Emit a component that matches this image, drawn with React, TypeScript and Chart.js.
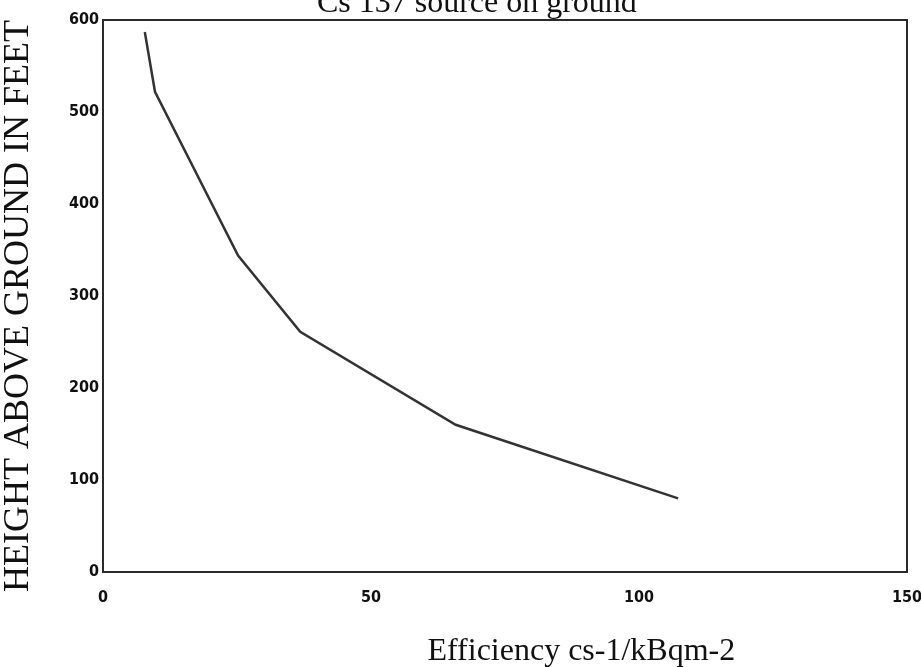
import React, { useEffect, useRef } from "react";
import { Chart, registerables } from "chart.js";

Chart.register(...registerables);

const efficiency = [7.8, 9.7, 25.2, 36.8, 65.8, 107.3];
const heightFeet = [587, 522, 344, 261, 160, 80];
const xTicks = [0, 50, 100, 150];
const yTicks = [0, 100, 200, 300, 400, 500, 600];
const titleText = "Cs 137 source on ground";
const xLabelText = "Efficiency cs-1/kBqm-2";
const yLabelText = "HEIGHT ABOVE GROUND IN FEET";

const INK = "#2a2a2a";
const SERIF = "'Liberation Serif', 'Times New Roman', serif";
const TICKFONT = "'Liberation Sans Narrow', 'DejaVu Sans Condensed', sans-serif";

const decorPlugin = {
  id: "decor",
  afterDraw(chart: any) {
    const { ctx, chartArea } = chart;
    const { left, top, right, bottom } = chartArea;
    ctx.save();
    // frame
    ctx.strokeStyle = INK;
    ctx.lineWidth = 2;
    ctx.strokeRect(left, top, right - left, bottom - top);
    // title
    ctx.fillStyle = "#111";
    ctx.font = `32px ${SERIF}`;
    ctx.textAlign = "center";
    ctx.textBaseline = "alphabetic";
    ctx.fillText(titleText, left + (right - left) * 0.465, top - 8);
    // x label
    ctx.fillText(xLabelText, left + (right - left) * 0.595, bottom + 88);
    // y label
    ctx.translate(left - 84, (top + bottom) / 2 + 10);
    ctx.rotate(-Math.PI / 2);
    ctx.font = `36px ${SERIF}`;
    ctx.textBaseline = "middle";
    ctx.fillText(yLabelText, 0, 0);
    ctx.restore();
  },
};

export default function App() {
  const canvasRef = useRef<HTMLCanvasElement | null>(null);

  useEffect(() => {
    const canvas = canvasRef.current;
    if (!canvas) return;
    const chart = new Chart(canvas, {
      type: "line",
      data: {
        datasets: [
          {
            data: efficiency.map((x, i) => ({ x, y: heightFeet[i] })),
            borderColor: "#333333",
            borderWidth: 2.5,
            pointRadius: 0,
            tension: 0,
            fill: false,
          },
        ],
      },
      options: {
        animation: false,
        responsive: true,
        maintainAspectRatio: false,
        layout: { padding: { top: 20, right: 0, left: 0, bottom: 0 } },
        plugins: {
          legend: { display: false },
          title: { display: false },
          tooltip: { enabled: false },
        },
        scales: {
          x: {
            type: "linear",
            min: 0,
            max: 150,
            afterBuildTicks: (s: any) => {
              s.ticks = xTicks.map((v) => ({ value: v }));
            },
            afterFit: (s: any) => {
              s.height = 95;
              s.paddingLeft = 0;
              s.paddingRight = 14;
            },
            grid: { display: false, drawTicks: false },
            border: { display: false },
            ticks: {
              color: "#111",
              font: { family: TICKFONT, size: 16, weight: "bold" },
              padding: 16,
              maxRotation: 0,
            },
          },
          y: {
            type: "linear",
            min: 0,
            max: 600,
            afterBuildTicks: (s: any) => {
              s.ticks = yTicks.map((v) => ({ value: v }));
            },
            afterFit: (s: any) => {
              s.width = 103;
            },
            grid: { display: false, drawTicks: false },
            border: { display: false },
            ticks: {
              color: "#111",
              font: { family: TICKFONT, size: 16, weight: "bold" },
              padding: 4,
            },
          },
        },
      },
      plugins: [decorPlugin],
    });
    return () => chart.destroy();
  }, []);

  return (
    <div
      style={{
        position: "fixed",
        left: 0,
        top: 0,
        width: 921,
        height: 667,
        background: "#fff",
      }}
    >
      <canvas ref={canvasRef} />
    </div>
  );
}
